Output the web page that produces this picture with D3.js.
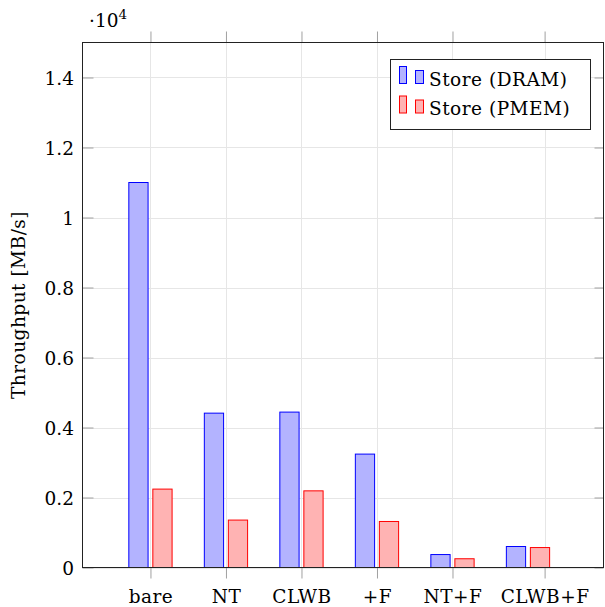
<!DOCTYPE html>
<html>
<head>
<meta charset="utf-8">
<script src="https://cdn.jsdelivr.net/npm/d3@7"></script>
<style>
  body { margin: 0; background: #fff; }
  text { font-family: "DejaVu Serif", "Liberation Serif", serif; fill: #000; }
</style>
</head>
<body>
<div id="chart"></div>
<script>
// Datos
const categories = ["bare", "NT", "CLWB", "+F", "NT+F", "CLWB+F"];
const dramValues = [11000, 4410, 4440, 3240, 370, 600];
const pmemValues = [2240, 1355, 2190, 1315, 250, 570];
const yTicks = [0, 2000, 4000, 6000, 8000, 10000, 12000, 14000];
// posiciones de las marcas del eje x (la última está desplazada en el original)
const xTickPos = [0, 1, 2, 3, 4, 5.22];
const seriesNames = ["Store (DRAM)", "Store (PMEM)"];

const width = 605, height = 607;
const pLeft = 82.5, pRight = 603.5, pTop = 42.5, pBottom = 567.5;
const fs = "18.5px";
const ls = "0.5px";

const series = [
  { name: seriesNames[0], values: dramValues, fill: "#b3b3ff", stroke: "#0000ff", off: -0.159 },
  { name: seriesNames[1], values: pmemValues, fill: "#ffb3b3", stroke: "#ff0000", off: 0.159 }
];

const svg = d3.select("#chart").append("svg")
  .attr("width", width)
  .attr("height", height);

const x = d3.scaleLinear().domain([-0.9, 6]).range([pLeft, pRight]);
const y = d3.scaleLinear().domain([0, 15000]).range([pBottom, pTop]);

// Rejilla
const grid = svg.append("g");
grid.selectAll(".gy").data(yTicks).enter().append("line")
  .attr("x1", pLeft).attr("x2", pRight)
  .attr("y1", d => Math.round(y(d)) + 0.5).attr("y2", d => Math.round(y(d)) + 0.5)
  .attr("stroke", "#e6e6e6");
grid.selectAll(".gx").data(xTickPos).enter().append("line")
  .attr("x1", d => Math.round(x(d)) + 0.5).attr("x2", d => Math.round(x(d)) + 0.5)
  .attr("y1", pTop).attr("y2", pBottom)
  .attr("stroke", "#e6e6e6");

// Barras
const barW = x(0.255) - x(0);
series.forEach(s => {
  svg.append("g").selectAll("rect").data(s.values).enter().append("rect")
    .attr("x", (d, i) => x(i + s.off) - barW / 2)
    .attr("y", d => y(d))
    .attr("width", barW)
    .attr("height", d => y(0) - y(d))
    .attr("fill", s.fill)
    .attr("stroke", s.stroke)
    .attr("stroke-width", 1);
});

// Marcas del eje y (hacia dentro, a ambos lados)
const tickColor = "#a0a0a0";
const yAxisL = svg.append("g").attr("transform", `translate(${pLeft},0)`)
  .call(d3.axisLeft(y).tickValues(yTicks).tickSize(-11).tickPadding(8.5)
    .tickFormat(d => d === 0 ? "0" : d3.format("")(d / 10000)));
yAxisL.select(".domain").remove();
yAxisL.selectAll("line").attr("stroke", tickColor);
yAxisL.selectAll("text").style("font-size", fs).attr("dy", "0.4em");

const yAxisR = svg.append("g").attr("transform", `translate(${pRight},0)`)
  .call(d3.axisRight(y).tickValues(yTicks).tickSize(-9).tickFormat(""));
yAxisR.select(".domain").remove();
yAxisR.selectAll("line").attr("stroke", tickColor);

// Marcas del eje x (hacia fuera)
const xAxisB = svg.append("g").attr("transform", `translate(0,${pBottom})`)
  .call(d3.axisBottom(x).tickValues(xTickPos).tickSize(11).tickPadding(8)
    .tickFormat((d, i) => categories[i]));
xAxisB.select(".domain").remove();
xAxisB.selectAll("line").attr("stroke", tickColor);
xAxisB.selectAll("text").style("font-size", fs).style("letter-spacing", ls).attr("dy", "0.9em");

const xAxisT = svg.append("g").attr("transform", `translate(0,${pTop})`)
  .call(d3.axisTop(x).tickValues(xTickPos).tickSize(11).tickFormat(""));
xAxisT.select(".domain").remove();
xAxisT.selectAll("line").attr("stroke", tickColor);

// Marco
svg.append("rect")
  .attr("x", pLeft).attr("y", pTop)
  .attr("width", pRight - pLeft).attr("height", pBottom - pTop)
  .attr("fill", "none").attr("stroke", "#222").attr("stroke-width", 1);

// Multiplicador
const mult = svg.append("text").attr("x", 89).attr("y", 27).style("font-size", fs);
mult.append("tspan").text("·10");
mult.append("tspan").attr("dy", -8).style("font-size", "13.5px").text("4");

// Título del eje y
svg.append("text")
  .attr("transform", `translate(25,${(pTop + pBottom) / 2}) rotate(-90)`)
  .attr("text-anchor", "middle")
  .style("font-size", fs)
  .style("letter-spacing", ls)
  .text("Throughput [MB/s]");

// Leyenda
const legend = svg.append("g");
legend.append("rect")
  .attr("x", 390.5).attr("y", 59.5).attr("width", 200).attr("height", 70)
  .attr("fill", "#fff").attr("stroke", "#222");
series.forEach((s, i) => {
  const g = legend.append("g").attr("transform", `translate(0,${i * 29.5})`);
  g.append("rect").attr("x", 399.5).attr("y", 66.5).attr("width", 7).attr("height", 17)
    .attr("fill", s.fill).attr("stroke", s.stroke);
  g.append("rect").attr("x", 415.5).attr("y", 70.5).attr("width", 8).attr("height", 13)
    .attr("fill", s.fill).attr("stroke", s.stroke);
  g.append("text").attr("x", 429).attr("y", 85.5).style("font-size", fs)
    .style("letter-spacing", ls).text(s.name);
});
</script>
</body>
</html>
